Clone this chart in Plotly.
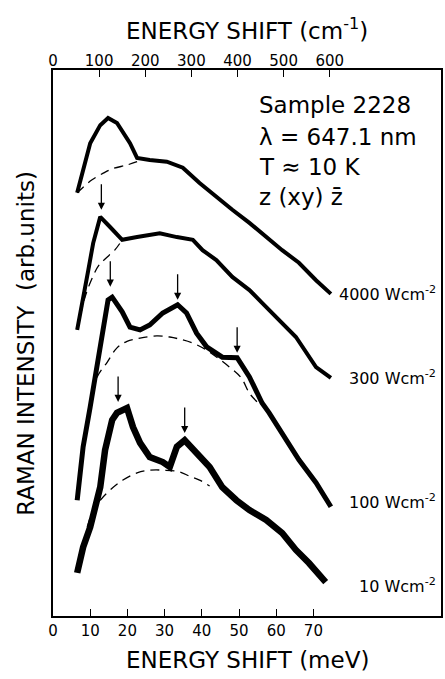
import plotly.graph_objects as go

# ---- data (energy shift in meV, intensity in arb. units) ----
x_4000 = [6.5, 10.0, 12.7, 14.8, 17.2, 20.7, 22.6, 26.0, 30.6, 34.9, 39.4, 43.9, 48.2, 52.8, 57.3, 61.6, 66.1, 70.7, 74.7]
y_4000 = [77.5, 86.6, 89.9, 91.2, 90.3, 86.6, 83.9, 83.5, 83.2, 82.1, 79.3, 76.7, 74.4, 72.0, 69.4, 67.0, 64.7, 61.5, 59.0]
bx_4000 = [6.5, 7.9, 10.5, 13.5, 15.9, 19.9, 22.6]
by_4000 = [77.5, 78.4, 79.9, 81.1, 81.9, 82.6, 83.2]

x_300 = [6.5, 8.1, 9.5, 10.8, 11.9, 12.7, 15.4, 18.6, 22.6, 28.7, 33.3, 37.6, 40.2, 43.9, 48.2, 52.8, 56.0, 61.6, 65.3, 70.7, 74.7]
y_300 = [52.4, 58.8, 63.4, 68.3, 71.2, 73.1, 71.2, 68.9, 69.4, 70.1, 69.4, 68.9, 67.0, 65.2, 62.1, 59.7, 57.5, 53.7, 51.1, 45.6, 43.6]
bx_300 = [6.5, 8.7, 10.8, 12.3, 14.0, 16.7, 18.6]
by_300 = [52.4, 58.6, 62.3, 64.2, 65.4, 67.1, 68.9]

x_100 = [6.5, 8.1, 10.0, 11.9, 13.5, 14.8, 15.9, 18.6, 20.7, 23.4, 26.0, 29.5, 33.5, 35.9, 38.6, 41.3, 45.5, 49.5, 52.8, 56.2, 58.1, 61.6, 66.1, 70.7, 74.7]
y_100 = [21.2, 31.0, 38.3, 46.3, 52.4, 57.9, 58.4, 55.7, 52.9, 52.4, 53.3, 55.5, 57.0, 55.5, 51.8, 49.3, 47.4, 47.3, 43.8, 39.0, 37.2, 33.5, 28.6, 24.4, 20.0]
bx_100 = [10.0, 11.9, 14.6, 17.2, 19.9, 23.4, 27.9, 31.4, 34.1, 37.5, 41.3, 47.4, 50.6, 52.8, 54.9]
by_100 = [38.3, 43.8, 46.5, 49.1, 50.3, 50.9, 51.3, 51.1, 50.7, 50.0, 48.7, 45.6, 43.6, 40.8, 39.2]

x_10 = [6.5, 8.1, 10.0, 12.7, 14.0, 15.9, 17.2, 19.9, 21.5, 23.4, 26.0, 29.5, 31.4, 33.3, 35.4, 38.6, 42.1, 45.5, 49.3, 52.8, 57.3, 61.6, 65.3, 68.8, 73.3]
y_10 = [7.9, 12.6, 16.3, 23.6, 30.4, 35.9, 37.2, 38.1, 34.6, 31.7, 29.1, 28.2, 27.3, 31.0, 32.2, 29.9, 27.3, 23.6, 21.2, 19.4, 17.6, 15.2, 12.1, 9.7, 6.2]
bx_10 = [9.2, 10.8, 12.7, 15.4, 18.8, 22.6, 26.0, 30.0, 34.0, 36.7, 39.4, 42.1]
by_10 = [16.3, 19.4, 21.2, 23.1, 24.9, 26.2, 26.7, 26.7, 26.4, 25.6, 24.9, 23.8]

# arrow tips (meV, arb. units)
arrow_x = [13.0, 15.4, 33.5, 49.5, 17.5, 35.4]
arrow_y = [74.4, 60.3, 57.9, 48.2, 39.2, 33.5]

power_labels = ["4000 Wcm<sup>-2</sup>", "300 Wcm<sup>-2</sup>", "100 Wcm<sup>-2</sup>", "10 Wcm<sup>-2</sup>"]
power_label_y = [59.0, 43.6, 21.0, 5.5]

mev_ticks = [0, 10, 20, 30, 40, 50, 60, 70]
cm_ticks = [0, 100, 200, 300, 400, 500, 600]
MEV_TO_CM = 8.0655
X_MAX = 104.3

info_lines = ["Sample 2228", "λ = 647.1 nm", "T ≈ 10 K", "z (xy) z\u0304\u0304"]

FONT = "DejaVu Sans"

fig = go.Figure()
spectra = [(x_4000, y_4000, 4.0), (x_300, y_300, 4.0), (x_100, y_100, 5.0), (x_10, y_10, 6.5)]
for xs, ys, w in spectra:
    fig.add_trace(go.Scatter(x=xs, y=ys, mode="lines", line=dict(color="black", width=w),
                             showlegend=False, hoverinfo="skip"))
for xs, ys in [(bx_4000, by_4000), (bx_300, by_300), (bx_100, by_100), (bx_10, by_10)]:
    fig.add_trace(go.Scatter(x=xs, y=ys, mode="lines", line=dict(color="black", width=1.3, dash="9px,6px", shape="spline"),
                             showlegend=False, hoverinfo="skip"))
# dummy trace so top axis is drawn
fig.add_trace(go.Scatter(x=[0], y=[-10], xaxis="x2", yaxis="y", mode="markers",
                         marker=dict(opacity=0), showlegend=False, hoverinfo="skip"))

for ax_, ay_ in zip(arrow_x, arrow_y):
    fig.add_annotation(x=ax_, y=ay_, xref="x", yref="y", ax=0, ay=-27, showarrow=True,
                       arrowhead=2, arrowsize=1.1, arrowwidth=1.3, arrowcolor="black", text="")

for lab, ly in zip(power_labels, power_label_y):
    fig.add_annotation(x=0.993, y=ly, xref="paper", yref="y", text=lab, showarrow=False,
                       xanchor="right", yanchor="middle", font=dict(family=FONT, size=16, color="black"))

info_y = [0.936, 0.877, 0.822, 0.767]
for t, iy in zip(info_lines, info_y):
    fig.add_annotation(x=0.525, y=iy, xref="paper", yref="paper", text=t, showarrow=False,
                       xanchor="left", yanchor="middle", font=dict(family=FONT, size=23, color="black"))

# axis titles
fig.add_annotation(x=0.5, y=-0.081, xref="paper", yref="paper", text="ENERGY SHIFT (meV)",
                   showarrow=False, xanchor="center", yanchor="middle",
                   font=dict(family=FONT, size=23, color="black"))
fig.add_annotation(x=0.5, y=1.076, xref="paper", yref="paper", text="ENERGY SHIFT (cm<sup>-1</sup>)",
                   showarrow=False, xanchor="center", yanchor="middle",
                   font=dict(family=FONT, size=23, color="black"))
fig.add_annotation(x=-0.070, y=0.5, xref="paper", yref="paper", text="RAMAN INTENSITY  (arb.units)",
                   showarrow=False, xanchor="center", yanchor="middle", textangle=-90,
                   font=dict(family=FONT, size=23, color="black"))

fig.update_layout(
    width=445, height=679,
    margin=dict(l=52.5, r=2, t=70, b=63),
    paper_bgcolor="white", plot_bgcolor="white",
    xaxis=dict(range=[0, X_MAX], tickvals=mev_ticks, ticktext=[str(v) for v in mev_ticks],
               ticks="inside", ticklen=7, tickwidth=1.2, tickcolor="black",
               showline=True, linecolor="black", linewidth=1.5, mirror=True,
               showgrid=False, zeroline=False,
               tickfont=dict(family=FONT, size=15, color="black")),
    xaxis2=dict(range=[0, X_MAX * MEV_TO_CM], overlaying="x", side="top", anchor="y",
                tickvals=cm_ticks, ticktext=[str(v) for v in cm_ticks],
                ticks="inside", ticklen=7, tickwidth=1.2, tickcolor="black",
                showline=False, showgrid=False, zeroline=False,
                tickfont=dict(family=FONT, size=15, color="black")),
    yaxis=dict(range=[0, 100], showticklabels=False, ticks="", showgrid=False, zeroline=False,
               showline=True, linecolor="black", linewidth=1.5, mirror=True),
)

fig.write_html("out.html")
